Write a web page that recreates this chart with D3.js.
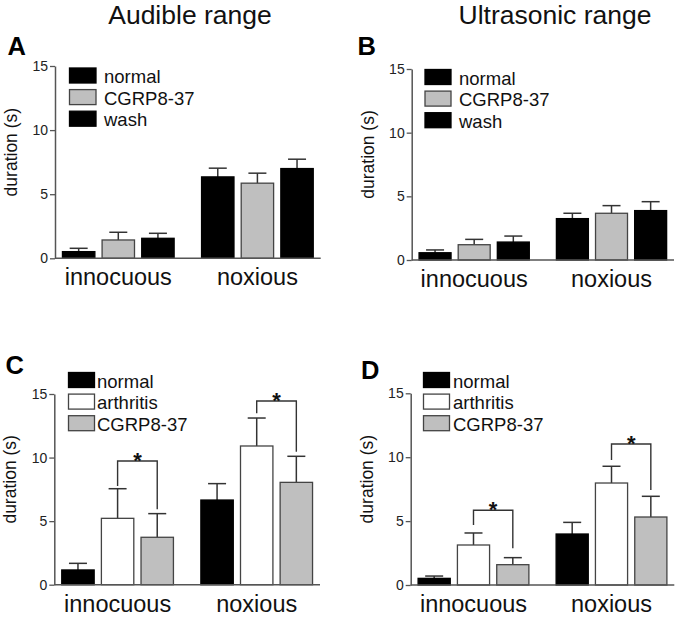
<!DOCTYPE html>
<html><head><meta charset="utf-8">
<script src="https://cdn.jsdelivr.net/npm/d3@7"></script>
<style>
html,body{margin:0;padding:0;background:#fff;}
svg{display:block;font-family:"Liberation Sans",Arial,Helvetica,sans-serif;}
</style></head>
<body>
<script>
// ---------- data ----------
const categories = ["innocuous", "noxious"];
const yTicks = [0, 5, 10, 15];
const seriesTop = ["normal", "CGRP8-37", "wash"];
const seriesBottom = ["normal", "arthritis", "CGRP8-37"];

// Panel A: Audible range (means, SEM) per category
const aNormal = [0.52, 6.35], aNormalErr = [0.26, 0.68];
const aCgrp = [1.43, 5.86], aCgrpErr = [0.60, 0.78];
const aWash = [1.56, 7.00], aWashErr = [0.39, 0.73];
// Panel B: Ultrasonic range
const bNormal = [0.57, 3.25], bNormalErr = [0.22, 0.42];
const bCgrp = [1.20, 3.67], bCgrpErr = [0.42, 0.60];
const bWash = [1.41, 3.88], bWashErr = [0.47, 0.70];
// Panel C: Audible, arthritis
const cNormal = [1.16, 6.66], cNormalErr = [0.52, 1.29];
const cArth = [5.22, 10.91], cArthErr = [2.33, 2.20];
const cCgrp = [3.73, 8.05], cCgrpErr = [1.86, 2.05];
// Panel D: Ultrasonic, arthritis
const dNormal = [0.52, 3.99], dNormalErr = [0.18, 0.91];
const dArth = [3.13, 7.98], dArthErr = [0.94, 1.31];
const dCgrp = [1.59, 5.32], dCgrpErr = [0.55, 1.62];
// significance brackets: [bar level, left leg end, right leg end] per category
const cBrackets = [[9.73, 7.77, 5.93], [14.45, 13.48, 10.46]];
const dBrackets = [[5.85, 4.69, 2.87], [11.03, 9.78, 7.43]];

// ---------- styles ----------
const BLACK = "#000", GRAY = "#bfbfbf", WHITE = "#fff";
const topFills = [BLACK, GRAY, BLACK];
const botFills = [BLACK, WHITE, GRAY];
const topStroke = ["#000", "#444", "#000"];
const botStroke = ["#000", "#444", "#444"];

const svg = d3.select("body").append("svg").attr("width", 680).attr("height", 623);

svg.append("text").attr("x", 190).attr("y", 23.5).attr("text-anchor", "middle")
  .attr("font-size", 26.5).attr("fill", "#111").text("Audible range");
svg.append("text").attr("x", 555).attr("y", 23.5).attr("text-anchor", "middle")
  .attr("font-size", 26.5).attr("fill", "#111").text("Ultrasonic range");

function panel(cfg) {
  const g = svg.append("g");
  const y = d3.scaleLinear().domain([0, 15]).range([cfg.y0, cfg.y1]);
  const xg = d3.scaleBand().domain(categories).range([cfg.x0, cfg.x1])
    .paddingInner(0.19).paddingOuter(0.05);
  const xs = d3.scaleBand().domain(d3.range(cfg.series.length)).range([0, xg.bandwidth()])
    .paddingInner(0.157).paddingOuter(0);

  // bars
  cfg.series.forEach((name, si) => {
    categories.forEach((c, ci) => {
      const v = cfg.values[si][ci], e = cfg.errs[si][ci];
      const bx = xg(c) + xs(si), bw = xs.bandwidth(), cx = bx + bw / 2;
      g.append("line").attr("x1", cx).attr("x2", cx).attr("y1", y(v)).attr("y2", y(v + e))
        .attr("stroke", "#333").attr("stroke-width", 1.5);
      g.append("line").attr("x1", cx - 9).attr("x2", cx + 9).attr("y1", y(v + e)).attr("y2", y(v + e))
        .attr("stroke", "#333").attr("stroke-width", 1.5);
      g.append("rect").attr("x", bx + 0.5).attr("y", y(v)).attr("width", bw - 1)
        .attr("height", y(0) - y(v)).attr("fill", cfg.fills[si])
        .attr("stroke", cfg.strokes[si]).attr("stroke-width", 1.3);
    });
  });

  // brackets
  if (cfg.brackets) {
    cfg.brackets.forEach((b, ci) => {
      const c = categories[ci];
      const lx = xg(c) + xs(1) + xs.bandwidth() / 2;
      const rx = xg(c) + xs(2) + xs.bandwidth() / 2;
      g.append("path")
        .attr("d", `M${lx},${y(b[1])}V${y(b[0])}H${rx}V${y(b[2])}`)
        .attr("fill", "none").attr("stroke", "#333").attr("stroke-width", 1.4);
      g.append("text").attr("x", (lx + rx) / 2).attr("y", y(b[0]) + 7)
        .attr("text-anchor", "middle").attr("font-size", 22).attr("font-weight", "bold")
        .attr("fill", "#111").text("*");
    });
  }

  // axes
  const ya = d3.axisLeft(y).tickValues(yTicks).tickSize(5).tickPadding(2).tickSizeOuter(0);
  const ay = g.append("g").attr("transform", `translate(${cfg.x0},0)`).call(ya);
  ay.select(".domain").attr("stroke", "#555").attr("stroke-width", 1.5);
  ay.selectAll(".tick line").attr("stroke", "#555").attr("stroke-width", 1.3);
  ay.selectAll(".tick text").attr("font-size", 14).attr("fill", "#222")
    .attr("font-family", "Liberation Sans, Arial, sans-serif");
  g.append("line").attr("x1", cfg.x0).attr("x2", cfg.x1).attr("y1", y(0)).attr("y2", y(0))
    .attr("stroke", "#555").attr("stroke-width", 1.5);

  // category labels
  categories.forEach(c => {
    g.append("text").attr("x", xg(c) + xg.bandwidth() / 2).attr("y", y(0) + 27)
      .attr("text-anchor", "middle").attr("font-size", 23.5).attr("fill", "#111").text(c);
  });

  // y label
  g.append("text")
    .attr("transform", `translate(${cfg.x0 - 38},${(cfg.y0 + cfg.y1) / 2 - 10}) rotate(-90)`)
    .attr("text-anchor", "middle").attr("font-size", 17.5).attr("fill", "#111").text("duration (s)");

  // panel letter
  g.append("text").attr("x", cfg.lx).attr("y", cfg.ly).attr("font-size", 25.5)
    .attr("font-weight", "bold").attr("fill", "#000").text(cfg.letter);

  // legend
  cfg.series.forEach((name, si) => {
    const ry = cfg.legY + si * 21.6;
    g.append("rect").attr("x", cfg.legX).attr("y", ry).attr("width", cfg.legW).attr("height", 15)
      .attr("fill", cfg.fills[si]).attr("stroke", cfg.strokes[si]).attr("stroke-width", 1.3);
    g.append("text").attr("x", cfg.legTX).attr("y", ry + 15).attr("font-size", 18.5)
      .attr("fill", "#111").text(name);
  });
}

panel({ letter: "A", lx: 7.5, ly: 55, x0: 55, x1: 320.7, y0: 258.3, y1: 66,
  series: seriesTop, values: [aNormal, aCgrp, aWash], errs: [aNormalErr, aCgrpErr, aWashErr],
  fills: topFills, strokes: topStroke, legX: 69.5, legY: 68, legW: 26.5, legTX: 104 });
panel({ letter: "B", lx: 357.5, ly: 55, x0: 411.7, x1: 674, y0: 260, y1: 69,
  series: seriesTop, values: [bNormal, bCgrp, bWash], errs: [bNormalErr, bCgrpErr, bWashErr],
  fills: topFills, strokes: topStroke, legX: 425, legY: 69.5, legW: 26, legTX: 459 });
panel({ letter: "C", lx: 5.5, ly: 374, x0: 54.3, x1: 320, y0: 584.7, y1: 394,
  series: seriesBottom, values: [cNormal, cArth, cCgrp], errs: [cNormalErr, cArthErr, cCgrpErr],
  fills: botFills, strokes: botStroke, brackets: cBrackets, legX: 68.5, legY: 372.5, legW: 26, legTX: 97 });
panel({ letter: "D", lx: 361, ly: 379, x0: 410.7, x1: 674.3, y0: 585, y1: 393.3,
  series: seriesBottom, values: [dNormal, dArth, dCgrp], errs: [dNormalErr, dArthErr, dCgrpErr],
  fills: botFills, strokes: botStroke, brackets: dBrackets, legX: 423.5, legY: 372.5, legW: 26, legTX: 453 });
</script>
</body></html>
